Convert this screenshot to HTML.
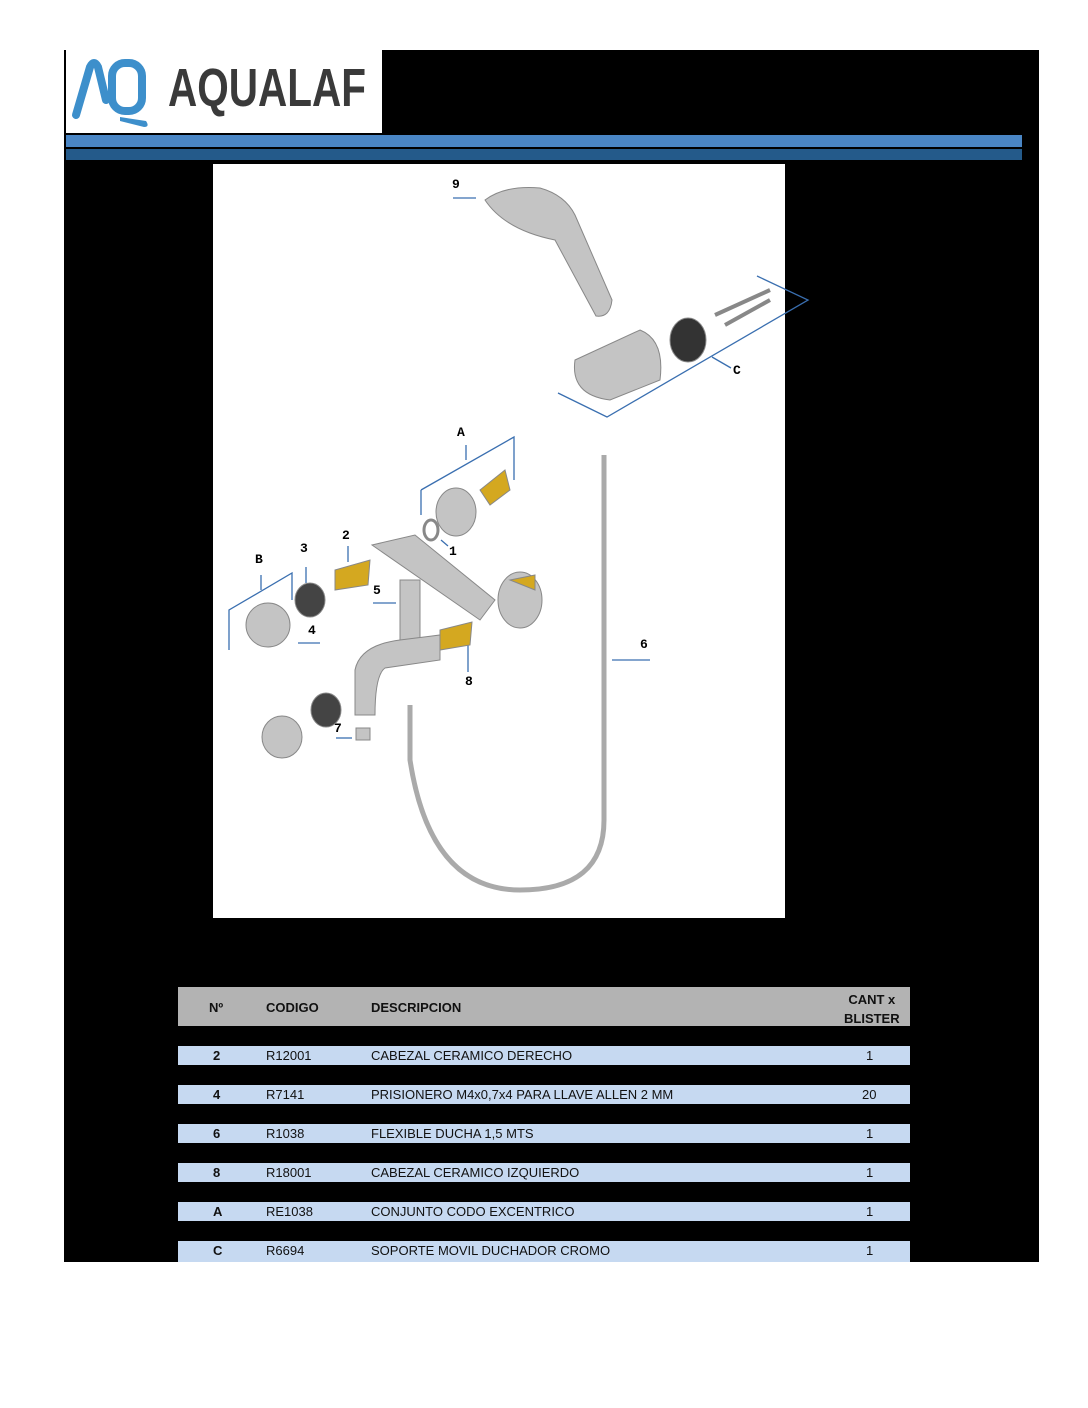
<!DOCTYPE html>
<html><head><meta charset="utf-8"><style>
body{margin:0;width:1088px;height:1408px;background:#fff;position:relative;font-family:"Liberation Sans",sans-serif;overflow:hidden}
.a{position:absolute}
.row{position:absolute;left:178px;width:732px;height:19px;background:#c6d9f1;font-size:13px;color:#111;line-height:19px}
.row span,.hd span{position:absolute}
.hd{position:absolute;left:178px;top:987px;width:732px;height:39px;background:#b3b3b3;font-size:13px;font-weight:bold;color:#111}
</style></head><body>
<div class="a" style="left:64px;top:50px;width:975px;height:1212px;background:#000"></div>
<div class="a" style="left:66px;top:50px;width:316px;height:83px;background:#fff"></div>
<div class="a" style="left:64px;top:50px;width:2px;height:83px;background:#000"></div>
<svg class="a" style="left:70px;top:55px" width="90" height="75"><path d="M6 60 L20 12 Q24 4 28 12 L36 45" stroke="#3d8fcb" stroke-width="8" fill="none" stroke-linecap="round"/><rect x="42" y="8" width="30" height="48" rx="13" stroke="#3d8fcb" stroke-width="8" fill="none"/><path d="M50 62 L76 66 Q80 72 74 72 L50 66Z" fill="#3d8fcb"/></svg>
<div class="a" style="left:168px;top:57px;font-size:54px;font-weight:bold;color:#3a3a3a;transform:scaleX(0.75);transform-origin:left;white-space:nowrap">AQUALAF</div>
<div class="a" style="left:66px;top:135px;width:956px;height:12px;background:#4a86c5"></div>
<div class="a" style="left:66px;top:149px;width:956px;height:11px;background:#245a8a"></div>
<div class="a" style="left:213px;top:164px;width:572px;height:754px;background:#fff"></div>
<svg class="a" style="left:0;top:0" width="1088" height="960" font-family="Liberation Mono,monospace" font-size="13" font-weight="bold">
<g stroke="#3a6fb0" stroke-width="1.3" fill="none">
<path d="M453 198H476"/><path d="M757 276L808 300L607 417L558 393"/><path d="M712 357L731 368"/>
<path d="M421 490V515M421 490L514 437V480M466 445V460"/>
<path d="M229 650V610L292 573V600M261 575V590"/><path d="M306 567V583"/><path d="M348 546V562"/><path d="M373 603H396"/><path d="M298 643H320"/><path d="M468 645V672"/><path d="M612 660H650"/><path d="M336 738H352"/><path d="M441 540L448 546"/>
</g>
<g fill="#000"><text x="452" y="188">9</text><text x="733" y="374">C</text><text x="457" y="436">A</text><text x="342" y="539">2</text><text x="300" y="552">3</text><text x="255" y="563">B</text><text x="449" y="555">1</text><text x="373" y="594">5</text><text x="308" y="634">4</text><text x="640" y="648">6</text><text x="465" y="685">8</text><text x="334" y="732">7</text></g>
<g fill="#c4c4c4" stroke="#888">
<path d="M485 200Q505 185 540 188Q565 195 575 215L612 300Q610 318 596 316L555 240Q505 230 485 200Z"/>
<path d="M575 360L640 330Q665 340 660 380L610 400Q570 395 575 360Z"/>
<ellipse cx="688" cy="340" rx="18" ry="22" fill="#333"/>
<path d="M715 315L770 290" stroke-width="4"/><path d="M725 325L770 300" stroke-width="4"/>
<ellipse cx="456" cy="512" rx="20" ry="24"/><ellipse cx="431" cy="530" rx="7" ry="10" fill="none" stroke-width="3"/>
<path d="M480 490L505 470L510 490L490 505Z" fill="#d4a820"/>
<path d="M372 545L415 535L495 600L480 620Z"/><rect x="400" y="580" width="20" height="60"/>
<ellipse cx="520" cy="600" rx="22" ry="28"/><path d="M510 580L535 575L535 590Z" fill="#d4a820"/>
<path d="M335 570L370 560L368 585L335 590Z" fill="#d4a820"/><path d="M440 630L472 622L470 645L440 650Z" fill="#d4a820"/>
<ellipse cx="310" cy="600" rx="15" ry="17" fill="#444"/><ellipse cx="268" cy="625" rx="22" ry="22"/>
<path d="M355 715V670Q360 645 400 640L440 635L440 660L385 668Q375 675 375 715Z"/>
<ellipse cx="326" cy="710" rx="15" ry="17" fill="#444"/><ellipse cx="282" cy="737" rx="20" ry="21"/><rect x="356" y="728" width="14" height="12"/>
</g>
<path d="M604 455V820Q604 890 520 890Q430 890 410 760V705" stroke="#aaa" stroke-width="5" fill="none"/>
</svg>
<div class="hd"><span style="left:31px;top:13px">Nº</span><span style="left:88px;top:13px">CODIGO</span><span style="left:193px;top:13px">DESCRIPCION</span><span style="left:666px;top:3px;line-height:19px;text-align:center">CANT x<br>BLISTER</span></div>
<div class="row" style="top:1046px"><span style="left:35px;font-weight:bold">2</span><span style="left:88px">R12001</span><span style="left:193px">CABEZAL CERAMICO DERECHO</span><span style="left:688px">1</span></div>
<div class="row" style="top:1085px"><span style="left:35px;font-weight:bold">4</span><span style="left:88px">R7141</span><span style="left:193px">PRISIONERO M4x0,7x4 PARA LLAVE ALLEN 2 MM</span><span style="left:684px">20</span></div>
<div class="row" style="top:1124px"><span style="left:35px;font-weight:bold">6</span><span style="left:88px">R1038</span><span style="left:193px">FLEXIBLE DUCHA 1,5 MTS</span><span style="left:688px">1</span></div>
<div class="row" style="top:1163px"><span style="left:35px;font-weight:bold">8</span><span style="left:88px">R18001</span><span style="left:193px">CABEZAL CERAMICO IZQUIERDO</span><span style="left:688px">1</span></div>
<div class="row" style="top:1202px"><span style="left:35px;font-weight:bold">A</span><span style="left:88px">RE1038</span><span style="left:193px">CONJUNTO CODO EXCENTRICO</span><span style="left:688px">1</span></div>
<div class="row" style="top:1241px;height:21px"><span style="left:35px;font-weight:bold">C</span><span style="left:88px">R6694</span><span style="left:193px">SOPORTE MOVIL DUCHADOR CROMO</span><span style="left:688px">1</span></div>
</body></html>
